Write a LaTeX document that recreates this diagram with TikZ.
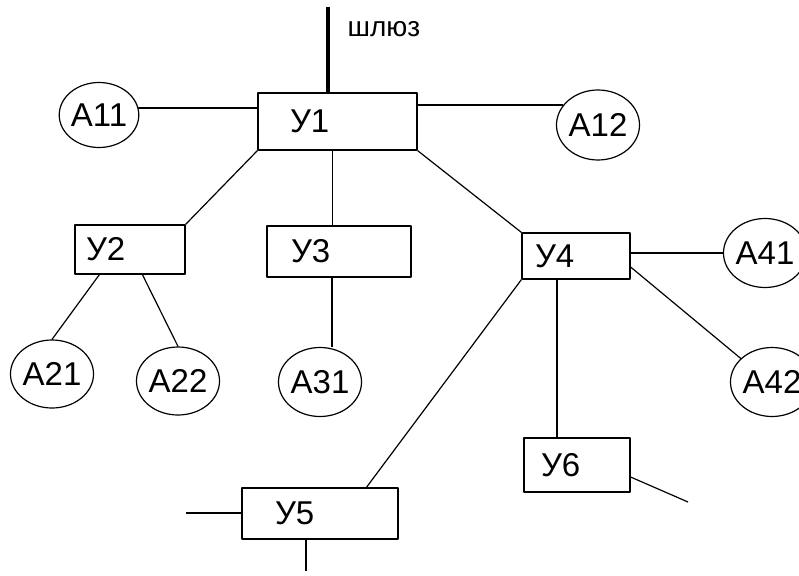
\documentclass[tikz,border=0pt]{standalone}
\usepackage{fontspec}
\setmainfont{Liberation Sans}
\usetikzlibrary{positioning,shapes.geometric}
\begin{document}
\begin{tikzpicture}[x=1pt, y=-1pt, line join=round, line width=1.2pt,
    font=\fontsize{33}{38}\selectfont,
    uzel/.style={draw, rectangle, inner sep=0pt},
    abon/.style={draw, ellipse, inner sep=0pt, minimum width=73pt, minimum height=68pt},
    ulbl/.style={inner sep=0pt}]
    \useasboundingbox (0,0) rectangle (799,575);
    \clip (0,0) rectangle (799,575);
    % uzly
    \node[uzel, minimum width=159pt, minimum height=57pt] (u1) at (337.5,121.5) {};
    \node[uzel, minimum width=110pt, minimum height=49pt] (u2) at (130,249.5) {};
    \node[uzel, minimum width=144pt, minimum height=51pt] (u3) at (339,251.5) {};
    \node[uzel, minimum width=108pt, minimum height=46pt] (u4) at (576,256) {};
    \node[uzel, minimum width=156pt, minimum height=51pt] (u5) at (320,513.5) {};
    \node[uzel, minimum width=106pt, minimum height=54pt] (u6) at (577,465) {};
    \node[ulbl, right=32pt of u1.west] (u1t) {У1};
    \node[ulbl, right=11pt of u2.west] (u2t) {У2};
    \node[ulbl, right=24pt of u3.west] (u3t) {У3};
    \node[ulbl, right=13pt of u4.west] (u4t) {У4};
    \node[ulbl, right=33pt of u5.west] (u5t) {У5};
    \node[ulbl, right=17pt of u6.west] (u6t) {У6};
    % abonenty
    \node[abon, minimum height=65pt] (a11) at (99,115) {А11};
    \node[abon, minimum height=70pt] (a12) at (598,125) {А12};
    \node[abon] (a21) at (52,374) {А21};
    \node[abon, minimum width=71pt] (a22) at (178,381) {А22};
    \node[abon, minimum height=69pt] (a31) at (320,382) {А31};
    \node[abon, minimum height=69pt] (a41) at (765,253) {А41};
    \node[abon, minimum height=69pt] (a42) at (772,382) {А42};
    % shlyuz
    \coordinate (gw) at (328,7);
    \draw[line width=4.5pt] (gw) -- (gw |- u1.north);
    \node[font=\fontsize{28}{32}\selectfont] (gwt) at (384,29) {шлюз};
    % svyazi
    \draw (a11.10) -- (a11.10 -| u1.west);
    \draw (a12.150) -- (a12.150 -| u1.east);
    \draw (u1.south west) -- (u2.north east);
    \draw ([xshift=-5pt]u1.south) -- ([xshift=-5pt]u1.south |- u3.north);
    \draw (u1.south east) -- (u4.north west);
    \draw ([xshift=25pt]u2.south west) -- (a21.north);
    \draw ([xshift=68pt]u2.south west) -- (a22.north);
    \draw ([xshift=-7pt]u3.south) -- ([xshift=-7pt]u3.south |- a31.north);
    \draw (a41.west) -- (a41.west -| u4.east);
    \draw ([yshift=-11pt]u4.east) -- (a42.143);
    \draw ([xshift=-19pt]u4.south) -- ([xshift=-19pt]u4.south |- u6.north);
    \draw (u4.south west) -- ([xshift=125pt]u5.north west);
    % svobodnye kontsy
    \coordinate (e6) at (688,502);
    \coordinate (e5l) at (186,513);
    \coordinate (e5b) at (306,571);
    \draw ([yshift=-12pt]u6.east) -- (e6);
    \draw (e5l) -- (e5l -| u5.west);
    \draw (e5b |- u5.south) -- (e5b);
\end{tikzpicture}
\end{document}
